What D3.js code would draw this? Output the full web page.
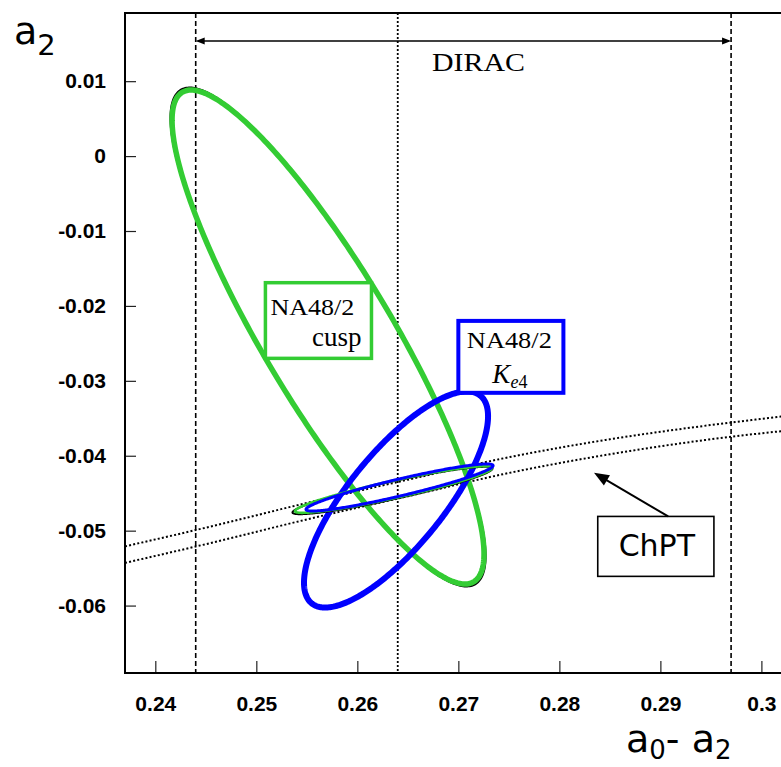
<!DOCTYPE html>
<html>
<head>
<meta charset="utf-8">
<script src="https://cdn.jsdelivr.net/npm/d3@7"></script>
<style>
  body { margin: 0; background: #fff; }
</style>
</head>
<body>
<script>
// tick labels
var xTicks = [0.24, 0.25, 0.26, 0.27, 0.28, 0.29, 0.30];
var yTicks = [0.01, 0, -0.01, -0.02, -0.03, -0.04, -0.05, -0.06];

// DIRAC range in a0-a2 : low edge, central value, high edge
var diracRange = [0.244, 0.264, 0.297];

// ChPT band edges, points [a0-a2, a2]
var chptUpper = [[0.237, -0.0521], [0.245, -0.0496], [0.255, -0.0463], [0.265, -0.0432],
                 [0.275, -0.0402], [0.285, -0.0378], [0.295, -0.0359], [0.305, -0.0343]];
var chptLower = [[0.237, -0.0543], [0.245, -0.0518], [0.255, -0.0485], [0.265, -0.0454],
                 [0.275, -0.0423], [0.285, -0.0398], [0.295, -0.0378], [0.305, -0.0363]];

// contours: [centre a0-a2, centre a2, half width a0-a2, half height a2, correlation]
var cuspOuter  = [0.2571, -0.02415, 0.0156, 0.0333, -0.878];
var cuspFit    = [0.2571, -0.02415, 0.01544, 0.03297, -0.878];
var ke4Fit     = [0.26383, -0.04584, 0.00911, 0.01442, 0.77];
var comboBlack = [0.26348, -0.04464, 0.0099, 0.00316, 0.925];
var comboGreen = [0.26358, -0.04451, 0.00975, 0.00311, 0.925];
var comboBlue  = [0.26418, -0.04424, 0.00926, 0.00314, 0.93];

var W = 781, H = 767;
var frame = {left: 125, top: 13, right: 822, bottom: 673};
var green = "#33cc33", blue = "#0000ff";

var svg = d3.select("body").append("svg")
    .attr("width", W)
    .attr("height", H)
    .style("display", "block");
svg.append("rect").attr("width", W).attr("height", H).attr("fill", "#fff");

var x = d3.scaleLinear().domain([0.237, 0.306]).range([frame.left, frame.right]);
var y = d3.scaleLinear().domain([-0.069, 0.0191]).range([frame.bottom, frame.top]);

svg.append("clipPath").attr("id", "plotClip").append("rect")
    .attr("x", frame.left).attr("y", frame.top)
    .attr("width", frame.right - frame.left)
    .attr("height", frame.bottom - frame.top);

var plot = svg.append("g").attr("clip-path", "url(#plotClip)");

// axes (ticks inside the frame, ROOT style)
var fmt = function(d) { return String(+d.toFixed(3)); };
var yMinor = d3.range(-34, 10).map(function(i) { return i * 0.002; });
var xMinor = d3.range(119, 154).map(function(i) { return i * 0.002; });

var yAxis = svg.append("g").attr("transform", "translate(" + frame.left + ",0)");
yAxis.call(d3.axisLeft(y).tickValues(yMinor).tickSize(-6).tickFormat(""));
yAxis.call(d3.axisLeft(y).tickValues(yTicks).tickSize(-11).tickPadding(19).tickFormat(fmt));

var xAxis = svg.append("g").attr("transform", "translate(0," + frame.bottom + ")");
xAxis.call(d3.axisBottom(x).tickValues(xMinor).tickSize(-6).tickFormat(""));
xAxis.call(d3.axisBottom(x).tickValues(xTicks).tickSize(-12).tickPadding(23).tickFormat(fmt));

svg.selectAll(".domain").remove();
svg.selectAll(".tick line").attr("stroke", "#222").attr("stroke-width", 1.2);
svg.selectAll(".tick text")
    .attr("font-family", "'Liberation Sans', Arial, sans-serif")
    .attr("font-weight", "bold")
    .attr("font-size", 21)
    .attr("fill", "#000");

// ChPT band
var bandLine = d3.line()
    .curve(d3.curveMonotoneX)
    .x(function(d) { return x(d[0]); })
    .y(function(d) { return y(d[1]); });
[chptUpper, chptLower].forEach(function(edge) {
    plot.append("path")
        .attr("d", bandLine(edge))
        .attr("fill", "none")
        .attr("stroke", "#000")
        .attr("stroke-width", 2)
        .attr("stroke-dasharray", "2,2.2");
});

// DIRAC lines
diracRange.forEach(function(v, i) {
    plot.append("line")
        .attr("x1", x(v)).attr("x2", x(v))
        .attr("y1", frame.top).attr("y2", frame.bottom)
        .attr("stroke", "#000")
        .attr("stroke-width", i === 1 ? 1.8 : 1.6)
        .attr("stroke-dasharray", i === 1 ? "2,2" : "5,3");
});

// contours
function contourPoints(c) {
    var s = Math.sqrt(1 - c[4] * c[4]);
    return d3.range(0, 360).map(function(k) {
        var t = k * Math.PI / 180;
        return [c[0] + c[2] * Math.cos(t), c[1] + c[3] * (c[4] * Math.cos(t) + s * Math.sin(t))];
    });
}
var contourLine = d3.line()
    .curve(d3.curveLinearClosed)
    .x(function(d) { return x(d[0]); })
    .y(function(d) { return y(d[1]); });

var contours = [
    {p: cuspOuter,  color: "#000", w: 2},
    {p: cuspFit,    color: green,  w: 5.5},
    {p: ke4Fit,     color: blue,   w: 6},
    {p: comboBlack, color: "#000", w: 2},
    {p: comboGreen, color: green,  w: 2.6},
    {p: comboBlue,  color: blue,   w: 3}
];
contours.forEach(function(c) {
    plot.append("path")
        .attr("d", contourLine(contourPoints(c.p)))
        .attr("fill", "none")
        .attr("stroke", c.color)
        .attr("stroke-width", c.w);
});

// DIRAC arrow
var arrowY = y(0.01536);
plot.append("line")
    .attr("x1", x(diracRange[0]) + 2).attr("x2", x(diracRange[2]) - 2)
    .attr("y1", arrowY).attr("y2", arrowY)
    .attr("stroke", "#000").attr("stroke-width", 1.6);
[[x(diracRange[0]), 1], [x(diracRange[2]), -1]].forEach(function(a) {
    plot.append("path")
        .attr("d", "M" + a[0] + "," + arrowY + "l" + (9 * a[1]) + ",-3.5v7z")
        .attr("fill", "#000");
});
plot.append("text")
    .attr("x", x(0.26739)).attr("y", y(0.0114))
    .attr("font-family", "'Liberation Serif', 'Times New Roman', serif")
    .attr("font-size", 25)
    .attr("textLength", 93)
    .attr("lengthAdjust", "spacingAndGlyphs")
    .text("DIRAC");

// label boxes
function labelBox(x0, x1, y0, y1, color, w) {
    return plot.append("rect")
        .attr("x", x(x0)).attr("y", y(y0))
        .attr("width", x(x1) - x(x0))
        .attr("height", y(y1) - y(y0))
        .attr("fill", "#fff")
        .attr("stroke", color)
        .attr("stroke-width", w);
}
var serif = "'Liberation Serif', 'Times New Roman', serif";

labelBox(0.2509, 0.2614, -0.0169, -0.0270, green, 3.5);
plot.append("text")
    .attr("x", x(0.2509) + 5).attr("y", y(-0.0169) + 32)
    .attr("font-family", serif).attr("font-size", 23)
    .attr("textLength", 84).attr("lengthAdjust", "spacingAndGlyphs")
    .text("NA48/2");
plot.append("text")
    .attr("x", x(0.2614) - 10).attr("y", y(-0.0169) + 63)
    .attr("text-anchor", "end")
    .attr("font-family", serif).attr("font-size", 27)
    .text("cusp");

labelBox(0.2700, 0.2804, -0.0220, -0.0316, blue, 4);
plot.append("text")
    .attr("x", x(0.2700) + 8.5).attr("y", y(-0.0220) + 27.5)
    .attr("font-family", serif).attr("font-size", 23)
    .attr("textLength", 85).attr("lengthAdjust", "spacingAndGlyphs")
    .text("NA48/2");
var ke4 = plot.append("text")
    .attr("x", (x(0.2700) + x(0.2804)) / 2 - 1).attr("y", y(-0.0220) + 62)
    .attr("text-anchor", "middle")
    .attr("font-family", serif).attr("font-size", 27);
ke4.append("tspan").attr("font-style", "italic").text("K");
ke4.append("tspan").attr("font-size", 18).attr("dy", 5).attr("font-style", "italic").text("e");
ke4.append("tspan").attr("font-size", 18).text("4");

// ChPT label with arrow
labelBox(0.2838, 0.2953, -0.0481, -0.0561, "#000", 1.6);
plot.append("text")
    .attr("x", (x(0.2838) + x(0.2953)) / 2 + 1).attr("y", y(-0.0481) + 40)
    .attr("text-anchor", "middle")
    .attr("font-family", "'DejaVu Sans', sans-serif").attr("font-size", 30)
    .text("ChPT");
var ax0 = x(0.29077), ay0 = y(-0.0481), ax1 = x(0.28343), ay1 = y(-0.04227);
var ang = Math.atan2(ay1 - ay0, ax1 - ax0);
plot.append("line")
    .attr("x1", ax0).attr("y1", ay0)
    .attr("x2", ax1 - 12 * Math.cos(ang)).attr("y2", ay1 - 12 * Math.sin(ang))
    .attr("stroke", "#000").attr("stroke-width", 2);
plot.append("path")
    .attr("d", "M0,0L-15,-6L-15,6Z")
    .attr("transform", "translate(" + ax1 + "," + ay1 + ") rotate(" + (ang * 180 / Math.PI) + ")")
    .attr("fill", "#000");

// frame
svg.append("rect")
    .attr("x", frame.left).attr("y", frame.top)
    .attr("width", frame.right - frame.left)
    .attr("height", frame.bottom - frame.top)
    .attr("fill", "none")
    .attr("stroke", "#000")
    .attr("stroke-width", 2);

// axis titles
var titleFont = "'DejaVu Sans', sans-serif";
var yTitle = svg.append("text")
    .attr("x", 14).attr("y", 44)
    .attr("font-family", titleFont).attr("font-size", 38);
yTitle.append("tspan").text("a");
yTitle.append("tspan").attr("font-size", 29).attr("dy", 11).text("2");

var xTitle = svg.append("text")
    .attr("x", 626).attr("y", 752)
    .attr("font-family", titleFont).attr("font-size", 38);
xTitle.append("tspan").text("a");
xTitle.append("tspan").attr("font-size", 26).attr("dy", 7).text("0");
xTitle.append("tspan").attr("dy", -7).text("- a");
xTitle.append("tspan").attr("font-size", 26).attr("dy", 7).text("2");
</script>
</body>
</html>
